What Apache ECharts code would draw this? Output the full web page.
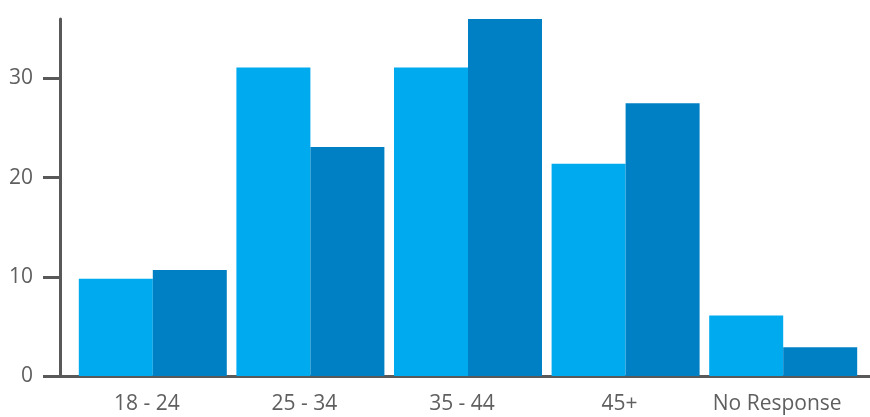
<!DOCTYPE html>
<html>
<head>
<meta charset="utf-8">
<script src="https://cdn.jsdelivr.net/npm/echarts@6/dist/echarts.min.js"></script>
<style>
  html, body { margin: 0; padding: 0; background: #fff; }
  #chart { width: 870px; height: 417px; }
</style>
</head>
<body>
<div id="chart"></div>
<script>
const categories = ["18 - 24", "25 - 34", "35 - 44", "45+", "No Response"];
const seriesA = [9.8, 31.1, 31.1, 21.4, 6.1];
const seriesB = [10.7, 23.1, 36.2, 27.5, 2.9];
const yTicks = [0, 10, 20, 30];

const axisColor = "#595959";
const font = "'Open Sans', 'Noto Sans', sans-serif";

const chart = echarts.init(document.getElementById("chart"));
chart.setOption({
    animation: false,
    // grid 0 holds the bars, grid 1 only draws the axes (slightly wider)
    grid: [
        { left: 74, right: 8, top: 19, bottom: 41 },
        { left: 60, right: 0, top: 19, bottom: 41 }
    ],
    xAxis: [
        {
            type: "category",
            gridIndex: 0,
            data: categories,
            axisLine: { show: false },
            axisTick: { show: false },
            axisLabel: {
                interval: 0,
                color: "#5f5f5f",
                fontFamily: font,
                fontSize: 21,
                margin: 18,
                padding: [0, 12, 0, 0]
            }
        },
        {
            type: "value",
            gridIndex: 1,
            min: 0,
            max: 1,
            axisLine: { show: true, onZero: false, lineStyle: { color: axisColor, width: 3 } },
            axisTick: { show: false },
            axisLabel: { show: false },
            splitLine: { show: false }
        }
    ],
    yAxis: [
        {
            type: "value",
            gridIndex: 0,
            show: false,
            min: 0,
            max: 36
        },
        {
            type: "value",
            gridIndex: 1,
            min: 0,
            max: 36,
            interval: 10,
            axisLine: { show: true, onZero: false, lineStyle: { color: axisColor, width: 3 } },
            axisTick: { show: true, length: 17, customValues: yTicks, lineStyle: { color: axisColor, width: 3 } },
            axisLabel: {
                color: "#5f5f5f",
                fontFamily: font,
                fontSize: 21,
                margin: 27,
                customValues: yTicks
            },
            splitLine: { show: false }
        }
    ],
    series: [
        {
            type: "bar",
            xAxisIndex: 0,
            yAxisIndex: 0,
            data: seriesA,
            barWidth: 74,
            barGap: "0%",
            itemStyle: { color: "#00AAEE" }
        },
        {
            type: "bar",
            xAxisIndex: 0,
            yAxisIndex: 0,
            data: seriesB,
            barWidth: 74,
            barGap: "0%",
            itemStyle: { color: "#0080C4" }
        }
    ]
});
</script>
</body>
</html>
